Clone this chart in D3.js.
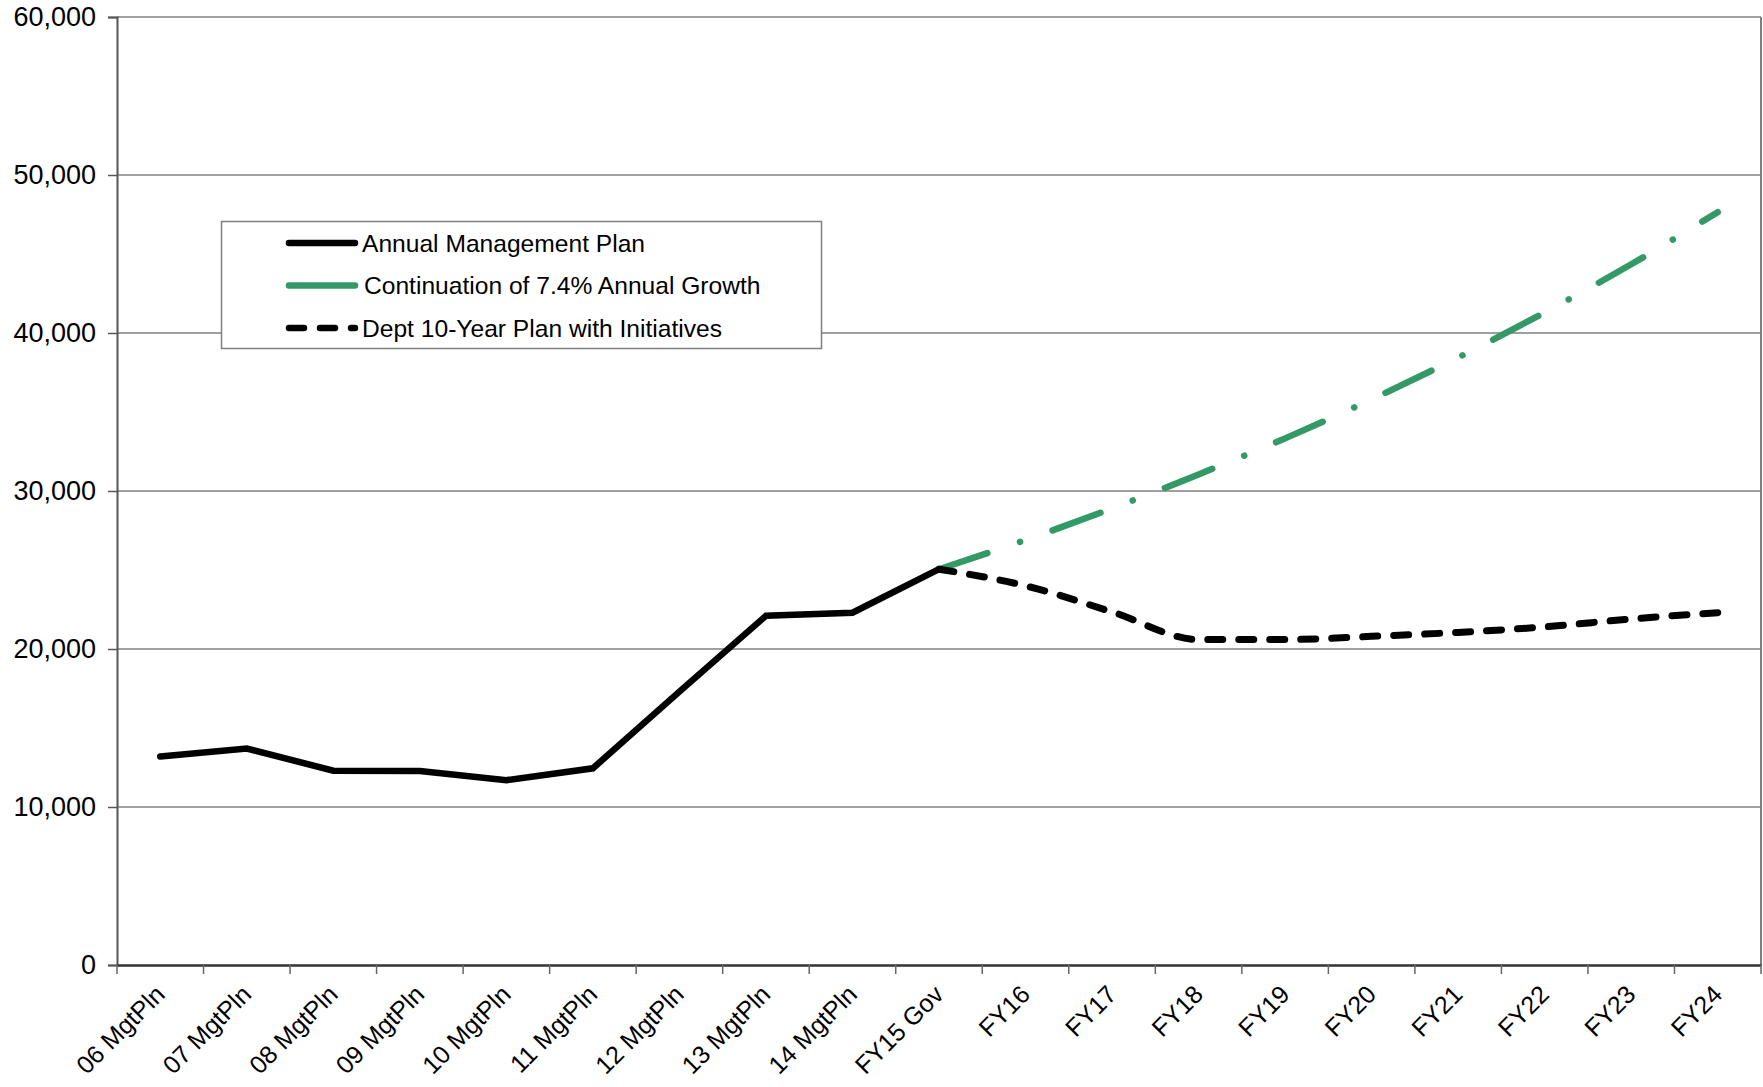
<!DOCTYPE html>
<html>
<head>
<meta charset="utf-8">
<script src="https://cdn.jsdelivr.net/npm/d3@7"></script>
<style>
  html, body { margin: 0; padding: 0; background: #fff; }
  svg { display: block; font-family: "Liberation Sans", Arial, sans-serif; }
</style>
</head>
<body>
<svg id="chart" width="1763" height="1087"></svg>
<script>
const categories = ["06 MgtPln","07 MgtPln","08 MgtPln","09 MgtPln","10 MgtPln","11 MgtPln","12 MgtPln","13 MgtPln","14 MgtPln","FY15 Gov","FY16","FY17","FY18","FY19","FY20","FY21","FY22","FY23","FY24"];
const annualPlan = [13200, 13700, 12300, 12280, 11700, 12450, 17300, 22100, 22300, 25050, null, null, null, null, null, null, null, null, null];
const growth74 = [null, null, null, null, null, null, null, null, null, 25050, 26900, 28900, 31050, 33330, 35800, 38450, 41300, 44350, 47650];
const deptPlan = [null, null, null, null, null, null, null, null, null, 25050, 24000, 22350, 20600, 20600, 20800, 21050, 21400, 21900, 22300];
const yTicks = [0, 10000, 20000, 30000, 40000, 50000, 60000];
const seriesNames = ["Annual Management Plan", "Continuation of 7.4% Annual Growth", "Dept 10-Year Plan with Initiatives"];

const svg = d3.select("#chart");
const pLeft = 117, pRight = 1761, pTop = 17, pBottom = 965;
const FONT = "Liberation Sans, Arial, sans-serif";

const x = d3.scaleBand().domain(categories).range([pLeft, pRight]);
const y = d3.scaleLinear().domain([0, 60000]).range([pBottom, pTop]);
const cx = c => x(c) + x.bandwidth() / 2;

// gridlines
svg.append("g").selectAll("line").data(yTicks.filter(t => t > 0)).join("line")
  .attr("x1", pLeft).attr("x2", pRight)
  .attr("y1", d => y(d)).attr("y2", d => y(d))
  .attr("stroke", "#7f7f7f").attr("stroke-width", 1.5);

// right border
svg.append("line").attr("x1", pRight).attr("x2", pRight).attr("y1", pTop).attr("y2", pBottom)
  .attr("stroke", "#7f7f7f").attr("stroke-width", 2);

// y axis
const yAxis = d3.axisLeft(y).tickValues(yTicks).tickFormat(d3.format(",")).tickSize(9).tickPadding(12);
const gy = svg.append("g").attr("transform", `translate(${pLeft},0)`).call(yAxis);
gy.select(".domain").attr("stroke", "#555").attr("stroke-width", 2);
gy.selectAll(".tick line").attr("stroke", "#555").attr("stroke-width", 1.5);
gy.selectAll(".tick text").attr("font-size", 27).attr("fill", "#000").attr("font-family", FONT);

// x axis
const xAxis = d3.axisBottom(x).tickSize(0).tickSizeOuter(0).tickFormat("");
const gx = svg.append("g").attr("transform", `translate(0,${pBottom})`).call(xAxis);
gx.select(".domain").attr("stroke", "#333").attr("stroke-width", 2.5);
gx.selectAll(".tick").remove();
const boundaries = categories.map(c => x(c)).concat([pRight]);
gx.selectAll("line.bt").data(boundaries).join("line").attr("class", "bt")
  .attr("x1", d => d).attr("x2", d => d).attr("y1", 0).attr("y2", 9)
  .attr("stroke", "#666").attr("stroke-width", 1.5);
gx.selectAll("text.lbl").data(categories).join("text").attr("class", "lbl")
  .attr("transform", d => `translate(${cx(d) + 6},${31}) rotate(-45)`)
  .attr("text-anchor", "end")
  .attr("font-size", 25).attr("fill", "#000").attr("font-family", FONT).text(d => d);

// lines
const mk = (arr) => categories.map((c, i) => ({c, v: arr[i]})).filter(d => d.v !== null);
const lineStraight = d3.line().x(d => cx(d.c)).y(d => y(d.v));
const lineSmooth = d3.line().x(d => cx(d.c)).y(d => y(d.v)).curve(d3.curveMonotoneX);

svg.append("path").datum(mk(growth74)).attr("d", lineSmooth)
  .attr("fill", "none").attr("stroke", "#339966").attr("stroke-width", 6.5)
  .attr("stroke-linecap", "round").attr("stroke-dasharray", "51,34.5,0.1,34.5");

svg.append("path").datum(mk(deptPlan)).attr("d", lineSmooth)
  .attr("fill", "none").attr("stroke", "#000").attr("stroke-width", 7)
  .attr("stroke-linecap", "round").attr("stroke-dasharray", "15,16");

svg.append("path").datum(mk(annualPlan)).attr("d", lineStraight)
  .attr("fill", "none").attr("stroke", "#000").attr("stroke-width", 6.5)
  .attr("stroke-linejoin", "miter").attr("stroke-linecap", "round");

// legend
const lg = svg.append("g");
lg.append("rect").attr("x", 221.5).attr("y", 221.5).attr("width", 600).attr("height", 127)
  .attr("fill", "#fff").attr("stroke", "#7f7f7f").attr("stroke-width", 1.5);
const legendStyles = [
  {stroke: "#000", dash: null},
  {stroke: "#339966", dash: null},
  {stroke: "#000", dash: "15,16"}
];
seriesNames.forEach((name, i) => {
  const yy = 243 + i * 42.5;
  lg.append("line").attr("x1", 289).attr("x2", 355).attr("y1", yy).attr("y2", yy)
    .attr("stroke", legendStyles[i].stroke).attr("stroke-width", 6.5)
    .attr("stroke-linecap", "round")
    .attr("stroke-dasharray", legendStyles[i].dash);
  lg.append("text").attr("x", i === 1 ? 364 : 362).attr("y", yy).attr("dy", "0.35em")
    .attr("font-size", 24.6).attr("fill", "#000").attr("font-family", FONT).text(name);
});
</script>
</body>
</html>
